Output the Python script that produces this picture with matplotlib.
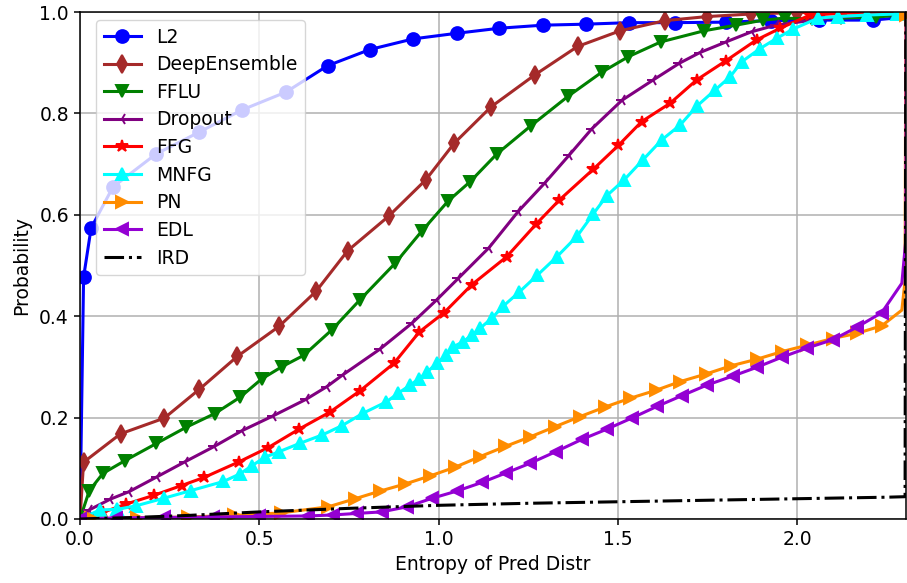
import numpy as np
import matplotlib
matplotlib.use("Agg")
import matplotlib.pyplot as plt

X_MAX = np.log(10)  # max entropy for 10 classes

# cumulative distribution of predictive entropy, one curve per method
l2_x = [0.0, 0.010, 0.031, 0.092, 0.212, 0.332, 0.452, 0.574, 0.690, 0.808, 0.929, 1.050,
        1.169, 1.290, 1.410, 1.531, 1.660, 1.800, 1.926, 2.060, 2.210, 2.303, 2.303]
l2_y = [0.0, 0.477, 0.574, 0.655, 0.720, 0.763, 0.807, 0.842, 0.894, 0.926, 0.947, 0.958,
        0.968, 0.974, 0.976, 0.979, 0.979, 0.980, 0.983, 0.984, 0.984, 0.990, 1.0]

de_x = [0.0, 0.010, 0.113, 0.235, 0.333, 0.439, 0.555, 0.658, 0.746, 0.860, 0.964, 1.043,
        1.146, 1.268, 1.387, 1.506, 1.631, 1.748, 1.870, 2.000, 2.303]
de_y = [0.0, 0.112, 0.168, 0.199, 0.256, 0.321, 0.380, 0.449, 0.529, 0.597, 0.669, 0.741,
        0.813, 0.876, 0.932, 0.963, 0.983, 0.991, 0.996, 0.999, 1.0]

fflu_x = [0.0, 0.026, 0.064, 0.125, 0.213, 0.296, 0.376, 0.446, 0.506, 0.562, 0.624, 0.702,
          0.780, 0.878, 0.953, 1.026, 1.087, 1.162, 1.256, 1.361, 1.454, 1.529, 1.619,
          1.740, 1.828, 1.905, 1.965, 2.040, 2.120, 2.220, 2.303, 2.303]
fflu_y = [0.0, 0.056, 0.090, 0.115, 0.149, 0.181, 0.208, 0.240, 0.276, 0.300, 0.323, 0.373,
          0.432, 0.504, 0.568, 0.627, 0.665, 0.720, 0.775, 0.834, 0.881, 0.912, 0.941,
          0.963, 0.974, 0.984, 0.988, 0.986, 0.988, 0.990, 0.995, 1.0]

drop_x = [0.0, 0.026, 0.084, 0.137, 0.214, 0.293, 0.374, 0.451, 0.537, 0.630, 0.688, 0.732,
          0.836, 0.925, 0.994, 1.055, 1.140, 1.222, 1.296, 1.364, 1.426, 1.511, 1.598,
          1.671, 1.728, 1.801, 1.872, 1.939, 2.044, 2.119, 2.190, 2.260, 2.303]
drop_y = [0.0, 0.018, 0.039, 0.054, 0.083, 0.113, 0.143, 0.174, 0.203, 0.236, 0.261, 0.284,
          0.335, 0.386, 0.432, 0.475, 0.535, 0.607, 0.663, 0.718, 0.769, 0.826, 0.866,
          0.899, 0.920, 0.941, 0.961, 0.974, 0.984, 0.990, 0.994, 0.997, 1.0]

ffg_x = [0.0, 0.063, 0.127, 0.207, 0.283, 0.346, 0.444, 0.525, 0.610, 0.697, 0.781, 0.875,
         0.946, 1.015, 1.092, 1.189, 1.272, 1.336, 1.431, 1.501, 1.566, 1.645, 1.719,
         1.801, 1.886, 1.952, 2.035, 2.150, 2.303]
ffg_y = [0.0, 0.013, 0.029, 0.047, 0.066, 0.082, 0.113, 0.141, 0.177, 0.211, 0.253, 0.307,
         0.369, 0.407, 0.462, 0.517, 0.582, 0.629, 0.690, 0.737, 0.784, 0.820, 0.866,
         0.904, 0.945, 0.968, 0.994, 0.998, 1.0]

mnfg_x = [0.0, 0.056, 0.104, 0.156, 0.234, 0.309, 0.400, 0.446, 0.479, 0.516, 0.556, 0.612,
          0.676, 0.730, 0.790, 0.854, 0.887, 0.920, 0.946, 0.968, 0.994, 1.020, 1.041,
          1.069, 1.092, 1.115, 1.148, 1.180, 1.225, 1.275, 1.329, 1.386, 1.431, 1.469,
          1.517, 1.570, 1.622, 1.673, 1.719, 1.770, 1.812, 1.845, 1.896, 1.942, 1.987,
          2.058, 2.114, 2.193, 2.278, 2.303]
mnfg_y = [0.0, 0.018, 0.019, 0.026, 0.041, 0.056, 0.074, 0.089, 0.105, 0.122, 0.133, 0.149,
          0.166, 0.184, 0.209, 0.231, 0.248, 0.264, 0.277, 0.290, 0.307, 0.323, 0.340,
          0.350, 0.363, 0.376, 0.396, 0.420, 0.448, 0.481, 0.517, 0.558, 0.602, 0.638,
          0.669, 0.709, 0.748, 0.777, 0.814, 0.846, 0.872, 0.902, 0.928, 0.948, 0.966,
          0.988, 0.991, 0.994, 0.996, 1.0]

pn_x = [0.0, 0.030, 0.160, 0.300, 0.430, 0.560, 0.692, 0.767, 0.836, 0.906, 0.976, 1.045,
        1.115, 1.185, 1.255, 1.324, 1.394, 1.464, 1.533, 1.606, 1.673, 1.745, 1.814,
        1.886, 1.956, 2.028, 2.098, 2.165, 2.235, 2.291, 2.300, 2.302, 2.303]
pn_y = [0.0, 0.001, 0.002, 0.004, 0.007, 0.012, 0.024, 0.040, 0.055, 0.069, 0.085, 0.102,
        0.123, 0.143, 0.162, 0.182, 0.202, 0.221, 0.238, 0.254, 0.271, 0.286, 0.302,
        0.315, 0.330, 0.343, 0.356, 0.366, 0.381, 0.412, 0.470, 0.994, 1.0]

edl_x = [0.0, 0.100, 0.235, 0.370, 0.500, 0.636, 0.706, 0.771, 0.841, 0.911, 0.982, 1.050,
         1.120, 1.188, 1.255, 1.327, 1.399, 1.468, 1.538, 1.608, 1.677, 1.747, 1.820,
         1.886, 1.956, 2.026, 2.100, 2.165, 2.235, 2.291, 2.302, 2.303]
edl_y = [0.0, 0.002, 0.003, 0.004, 0.005, 0.006, 0.008, 0.011, 0.014, 0.024, 0.041, 0.055,
         0.072, 0.091, 0.110, 0.133, 0.157, 0.177, 0.199, 0.222, 0.243, 0.264, 0.282,
         0.299, 0.319, 0.337, 0.354, 0.378, 0.407, 0.465, 0.550, 1.0]

ird_x = [0.0, 0.15, 0.30, 0.50, 0.75, 1.00, 1.25, 1.50, 1.75, 2.00, 2.25, 2.300, 2.302]
ird_y = [0.0, 0.003, 0.007, 0.014, 0.021, 0.027, 0.031, 0.034, 0.037, 0.040, 0.043, 0.044, 1.0]

# label, x, y, colour, marker, indices without a marker
curves = [
    ("L2", l2_x, l2_y, "blue", "o", (0, 21, 22)),
    ("DeepEnsemble", de_x, de_y, "brown", "d", (0, 20)),
    ("FFLU", fflu_x, fflu_y, "green", "v", (0, 30, 31)),
    ("Dropout", drop_x, drop_y, "purple", "3", (0, 32)),
    ("FFG", ffg_x, ffg_y, "red", "*", (0, 27, 28)),
    ("MNFG", mnfg_x, mnfg_y, "cyan", "^", (0, 49)),
    ("PN", pn_x, pn_y, "darkorange", ">", (29, 30, 32)),
    ("EDL", edl_x, edl_y, "darkviolet", "<", (29, 30, 31)),
]

plt.rcParams["font.size"] = 13.5

fig = plt.figure(figsize=(9.07, 5.83), dpi=100)
ax = fig.add_axes([80 / 907, 1 - 519 / 583, 826 / 907, 507 / 583])

for label, x, y, color, marker, skip in curves:
    marks = [i for i in range(len(x)) if i not in skip]
    ax.plot(x, y, color=color, marker=marker, markevery=marks, label=label,
            linewidth=2.2, markersize=9.2, markeredgewidth=1.4)

ax.plot(ird_x, ird_y, color="black", linestyle="-.", linewidth=2.2, label="IRD")

ax.set_xlim(0, X_MAX)
ax.set_ylim(0, 1)
ax.set_xticks([0.0, 0.5, 1.0, 1.5, 2.0])
ax.set_yticks([0.0, 0.2, 0.4, 0.6, 0.8, 1.0])
ax.set_xlabel("Entropy of Pred Distr")
ax.set_ylabel("Probability", labelpad=6)
ax.grid(True, color="#b0b0b0", linewidth=1.1)
ax.tick_params(length=4.5, width=1.1)
for s in ax.spines.values():
    s.set_linewidth(1.1)
ax.legend(loc="upper left", bbox_to_anchor=(0.0194, 0.9842), borderaxespad=0,
          labelspacing=0.46)

fig.savefig("out.png", dpi=100)
